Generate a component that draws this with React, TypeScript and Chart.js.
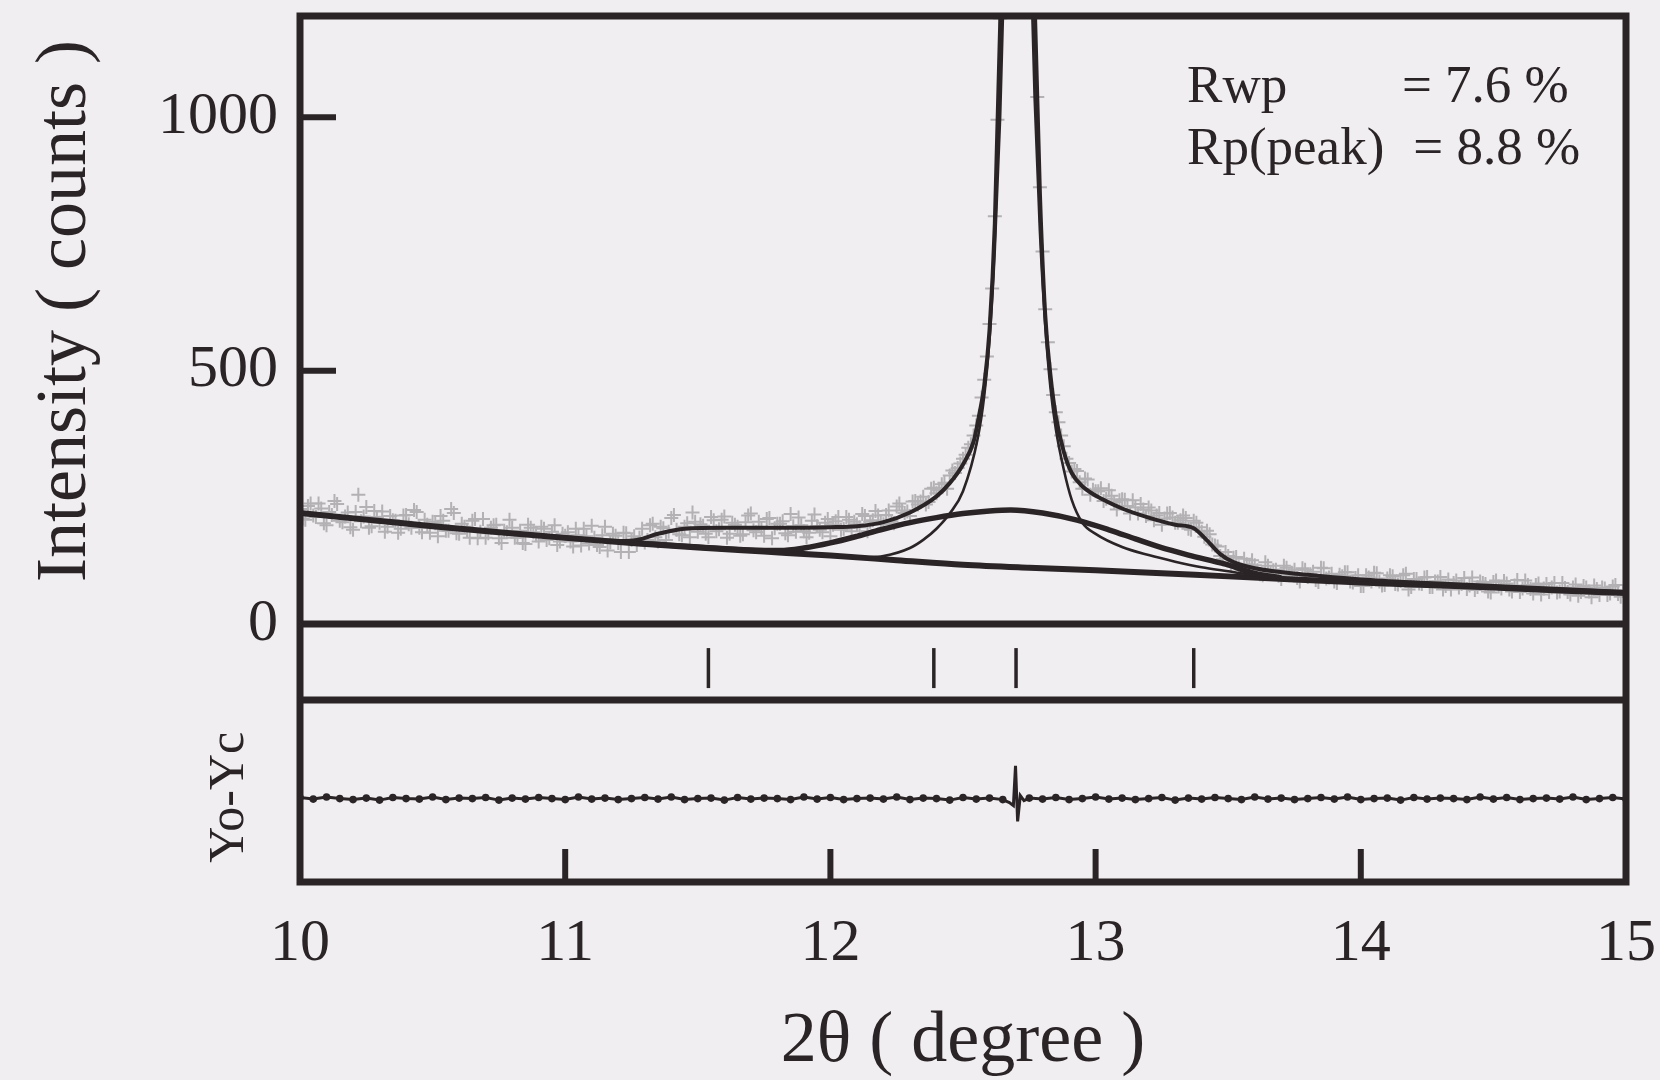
import { useEffect, useRef } from 'react';
import { Chart, registerables } from 'chart.js';

Chart.register(...registerables);

const INK = '#2a2427';
const DATA_GREY = '#b3b1b3';
const PAPER = '#f0eef0';
const SERIF = "'Liberation Serif', 'DejaVu Serif', 'Times New Roman', serif";

const X_TICKS = [10, 11, 12, 13, 14, 15];
const Y_TICKS = [0, 500, 1000];

// observed intensity, first interleave (10.00 .. 15.00, step 0.02 deg)
const OBS_A_START = 10.0;
const OBS_STEP = 0.02;
const OBS_A = [
  227, 206, 238, 211, 228, 195, 215, 237, 201, 220,
  186, 255, 212, 190, 223, 200, 182, 213, 204, 188,
  215, 190, 221, 181, 196, 202, 173, 204, 184, 219,
  178, 192, 170, 207, 182, 170, 190, 196, 160, 181,
  190, 170, 160, 196, 181, 163, 188, 169, 195, 163,
  174,
  163, 188, 155, 173, 194, 156, 175, 145, 178, 160,
  180, 142, 173, 170, 161, 195, 171, 192, 166, 209,
  186, 175, 199, 220, 182, 194, 171, 205, 187, 212,
  178, 196, 174, 201, 218, 181, 188, 207, 169, 198,
  203, 175, 193, 210, 183, 180, 216, 186, 200, 173,
  203, 186, 211, 183, 197, 217, 183, 205, 214, 197,
  224, 199, 238, 219, 213, 243, 242, 236, 267, 258,
  276, 267, 303, 308, 326,
  348, 372, 411, 482, 592, 805, 1195, 1680, 2230, 2480,
  2420, 1930, 1470, 1040, 735, 556, 452, 398, 351, 318,
  306, 280, 287, 255, 262, 268, 247, 253, 226, 246,
  233, 244, 218, 226, 230, 205, 219, 208, 219, 200,
  205, 209, 186, 200, 182, 184, 157, 153, 128, 134,
  131, 112, 129, 111, 116, 98, 122, 101, 107, 89,
  111, 101, 91, 110, 93, 103, 83, 110, 92, 84,
  97, 102, 84, 91, 75, 96, 84, 100, 76, 90,
  94, 78, 96, 68, 89, 80, 92, 73, 84, 93,
  75, 68, 86, 79, 69, 92, 73, 81, 64, 83,
  74, 85, 68, 76, 63, 86, 69, 77, 58, 79,
  72, 62, 81, 63, 72, 56, 75, 64, 76, 57,
  70, 60, 77, 54, 66,
];

// observed intensity, second interleave (10.01 .. 14.99, step 0.02 deg)
const OBS_B_START = 10.01;
const OBS_B = [
  208, 233, 214, 238, 199, 221, 243, 204, 212, 191,
  221, 203, 231, 193, 211, 222, 192, 205, 180, 214,
  197, 225, 190, 206, 180, 199, 213, 184, 227, 179,
  198, 185, 204, 169, 207, 179, 195, 169, 184, 206,
  170, 184, 158, 190, 175, 192, 166, 182, 156, 178,
  181, 153, 175, 188, 159, 170, 152, 192, 161, 174,
  142, 179, 166, 156, 188, 166, 198, 163, 189, 182,
  215, 177, 192, 171, 202, 197, 178, 211, 183, 206,
  170, 200, 192, 177, 214, 185, 202, 174, 209, 189,
  198, 179, 217, 182, 195, 171, 204, 193, 181, 207,
  196, 211, 188, 206, 202, 191, 213, 202, 223, 201,
  215, 203, 232, 224, 222, 242, 236, 251, 241, 269,
  264, 279, 293, 298, 317,
  334, 355, 392, 447, 528, 662, 995, 1420, 1960, 2370,
  2490, 2180, 1710, 1245, 862, 621, 503, 418, 372, 326,
  301, 302, 267, 285, 265, 262, 243, 264, 241, 244,
  245, 218, 230, 237, 213, 224, 214, 196, 218, 210,
  200, 214, 188, 204, 191, 172, 177, 155, 134, 142,
  118, 132, 107, 118, 126, 106, 96, 115, 106, 95,
  115, 96, 107, 84, 107, 98, 87, 111, 90, 99,
  81, 94, 102, 82, 96, 75, 92, 101, 84, 77,
  96, 79, 85, 99, 73, 89, 79, 93, 73, 84,
  68, 88, 81, 72, 91, 76, 67, 84, 79, 62,
  86, 70, 80, 64, 87, 70, 77, 60, 80, 70,
  63, 81, 64, 71, 58, 78, 63, 72, 53, 69,
  72, 57, 74, 59, 65,
];

// calculated total profile
const TOTAL_X = [10.0, 10.25, 10.5, 10.75, 11.0, 11.2, 11.27, 11.35, 11.45, 11.6, 11.8, 12.0, 12.1, 12.2, 12.3, 12.4, 12.45, 12.5, 12.54, 12.56, 12.58, 12.6, 12.62, 12.64, 12.66, 12.68, 12.706, 12.73, 12.75, 12.77, 12.79, 12.81, 12.83, 12.85, 12.88, 12.91, 12.95, 13.03, 13.1, 13.2, 13.3, 13.37, 13.42, 13.47, 13.52, 13.6, 13.8, 14.0, 14.25, 14.5, 14.75, 15.0];
const TOTAL_Y = [219, 205, 193, 181, 171, 164, 166, 178, 188, 190, 190, 191, 193, 201, 220, 252, 278, 315, 360, 410, 470, 580, 790, 1180, 1700, 2200, 2500, 2200, 1700, 1230, 850, 610, 490, 410, 340, 298, 272, 245, 228, 210, 196, 189, 165, 138, 122, 110, 97, 88, 81, 75, 69, 63];

// background
const BG_X = [10.0, 10.25, 10.5, 10.75, 11.0, 11.25, 11.5, 11.75, 12.0, 12.25, 12.5, 12.75, 13.0, 13.25, 13.5, 13.75, 14.0, 14.25, 14.5, 14.75, 15.0];
const BG_Y = [219, 206, 193, 181, 170, 160, 151, 143, 135, 126, 117, 111, 106, 100, 94, 88, 82, 77, 72, 66, 61];

// broad component (+ background)
const HUMP_X = [11.25, 11.5, 11.7, 11.81, 11.9, 12.0, 12.1, 12.19, 12.3, 12.4, 12.5, 12.6, 12.68, 12.8, 12.93, 13.05, 13.15, 13.24, 13.35, 13.49, 13.6, 13.7];
const HUMP_Y = [160, 152, 146, 145, 150, 160, 173, 186, 200, 210, 218, 223, 225, 219, 205, 186, 168, 152, 136, 118, 100, 91];

// sharp component (+ background)
const SHARP_X = [12.12, 12.2, 12.3, 12.35, 12.4, 12.45, 12.5, 12.555, 12.58, 12.6, 12.62, 12.64, 12.66, 12.68, 12.706, 12.73, 12.75, 12.77, 12.79, 12.81, 12.83, 12.85, 12.88, 12.91, 12.95, 13.0, 13.1, 13.2, 13.3, 13.4, 13.5, 13.6, 13.66];
const SHARP_Y = [131, 134, 150, 166, 188, 218, 262, 365, 450, 560, 740, 1000, 1380, 1850, 2200, 1890, 1420, 1040, 775, 590, 465, 385, 305, 245, 200, 178, 152, 136, 123, 112, 104, 96, 92];

// reflection positions
const BRAGG_POS = [11.54, 12.39, 12.70, 13.37];

// Yo - Yc
const RES_START = 10.0;
const RES_STEP = 0.05;
const RES_VALUES = [
  2, -1, 3, 0, -2, 1, -3, 2, 0, -1,
  3, -2, 1, 0, 2, -3, 1, -1, 2, 0,
  -2, 3, -1, 1, -2, 0, 2, -1, 3, -2,
  0, 1, -3, 2, -1, 1, 0, -2, 3, -1,
  2, -2, 0, 1, -1, 3, -2, 1, 0, -3,
  2, -1, 1, -2, 0, 1, -1, 2, -2, 0,
  3, -1, 1, -2, 0, 2, -3, 1, -1, 2,
  0, -2, 3, -1, 1, -2, 0, 2, -1, 3,
  -2, 0, 1, -3, 2, -1, 1, 0, -2, 3,
  -1, 2, -2, 0, 1, -1, 3, -2, 0, 2,
  -1,
];
const RES_GLITCH_X = [12.675, 12.69, 12.698, 12.706, 12.716, 12.73];
const RES_GLITCH_Y = [-8, -14, 65, -45, 6, -4];

const zip = (xs: number[], ys: number[]) => xs.map((x, i) => ({ x, y: ys[i] }));

const framePlugin = {
  id: 'frame',
  beforeDraw(chart: any) {
    const { ctx, width, height } = chart;
    ctx.save();
    ctx.fillStyle = PAPER;
    ctx.fillRect(0, 0, width, height);
    ctx.restore();
  },
  afterDatasetsDraw(chart: any) {
    const { ctx, chartArea: a, scales } = chart;
    ctx.save();
    ctx.strokeStyle = INK;
    ctx.lineCap = 'butt';
    ctx.lineWidth = 7;
    ctx.strokeRect(a.left, a.top, a.right - a.left, a.bottom - a.top);
    const hline = (yy: number) => {
      ctx.beginPath();
      ctx.moveTo(a.left, yy);
      ctx.lineTo(a.right, yy);
      ctx.stroke();
    };
    hline(scales.y.bottom);
    hline(scales.yB.bottom);
    ctx.lineWidth = 6;
    for (const v of Y_TICKS) {
      if (v <= 0) continue;
      const py = scales.y.getPixelForValue(v);
      ctx.beginPath();
      ctx.moveTo(a.left, py);
      ctx.lineTo(a.left + 36, py);
      ctx.stroke();
    }
    for (const v of X_TICKS) {
      if (v <= 10 || v >= 15) continue;
      const px = scales.x.getPixelForValue(v);
      ctx.beginPath();
      ctx.moveTo(px, a.bottom);
      ctx.lineTo(px, a.bottom - 33);
      ctx.stroke();
    }
    // R-factors
    ctx.fillStyle = INK;
    ctx.font = `53px ${SERIF}`;
    ctx.textBaseline = 'alphabetic';
    ctx.textAlign = 'left';
    const X = (v: number) => scales.x.getPixelForValue(v);
    const Y = (v: number) => scales.y.getPixelForValue(v);
    ctx.fillText('Rwp', X(13.345), Y(1030));
    ctx.fillText('= 7.6 %', X(14.155), Y(1030));
    ctx.fillText('Rp(peak)', X(13.345), Y(907));
    ctx.fillText('= 8.8 %', X(14.198), Y(907));
    ctx.restore();
  },
};

export default function App() {
  const ref = useRef<HTMLCanvasElement | null>(null);

  useEffect(() => {
    document.body.style.margin = '0';
    document.body.style.background = PAPER;
    const canvas = ref.current;
    if (!canvas) return;

    const obsA = OBS_A.map((c, i) => ({ x: +(OBS_A_START + i * OBS_STEP).toFixed(2), y: c }));
    const obsB = OBS_B.map((c, i) => ({ x: +(OBS_B_START + i * OBS_STEP).toFixed(2), y: c }));
    const obs = obsA.concat(obsB).sort((p, q) => p.x - q.x);

    const resRegular = RES_VALUES.map((v, i) => ({ x: +(RES_START + i * RES_STEP).toFixed(2), y: v, g: false }));
    const glitch = RES_GLITCH_X.map((x, i) => ({ x, y: RES_GLITCH_Y[i], g: true }));
    const gMin = RES_GLITCH_X[0] - 0.02;
    const gMax = RES_GLITCH_X[RES_GLITCH_X.length - 1] + 0.015;
    const res = resRegular
      .filter((p) => p.x < gMin || p.x > gMax)
      .concat(glitch)
      .sort((p, q) => p.x - q.x);

    const lineDs = (label: string, data: any[], width: number, order: number) => ({
      label,
      data,
      yAxisID: 'y',
      showLine: true,
      borderColor: INK,
      borderWidth: width,
      pointRadius: 0,
      cubicInterpolationMode: 'monotone' as const,
      order,
    });

    Chart.defaults.font.family = SERIF;
    Chart.defaults.color = INK;

    const yFit = (s: any) => {
      s.width = 300;
      s.paddingTop = 0;
      s.paddingBottom = 0;
    };

    const chart = new Chart(canvas, {
      type: 'scatter',
      data: {
        datasets: [
          lineDs('Sharp', zip(SHARP_X, SHARP_Y), 2.6, 1),
          lineDs('Total', zip(TOTAL_X, TOTAL_Y), 4, 2),
          lineDs('Broad', zip(HUMP_X, HUMP_Y), 5.5, 3),
          lineDs('Background', zip(BG_X, BG_Y), 6, 4),
          {
            label: 'Observed',
            data: obs,
            yAxisID: 'y',
            showLine: false,
            pointStyle: 'cross',
            pointRadius: 7,
            borderWidth: 2,
            borderColor: DATA_GREY,
            backgroundColor: DATA_GREY,
            order: 10,
          },
          {
            label: 'Reflections',
            data: BRAGG_POS.map((x) => ({ x, y: 0.42 })),
            yAxisID: 'yB',
            showLine: false,
            pointStyle: 'line',
            rotation: 90,
            pointRadius: 20,
            borderWidth: 3.5,
            borderColor: INK,
            order: 0,
          },
          {
            label: 'Yo-Yc',
            data: res,
            yAxisID: 'yR',
            showLine: true,
            borderColor: INK,
            backgroundColor: INK,
            borderWidth: 3,
            pointRadius: (c: any) => (c.raw && c.raw.g ? 0 : 3.8),
            pointStyle: 'circle',
            pointBorderWidth: 0,
            tension: 0,
            order: 0,
          },
        ],
      },
      options: {
        responsive: false,
        animation: false,
        devicePixelRatio: 1,
        events: [],
        layout: { autoPadding: false, padding: { left: 0, right: 34, top: 16, bottom: 0 } },
        plugins: { legend: { display: false }, tooltip: { enabled: false } },
        scales: {
          x: {
            type: 'linear',
            position: 'bottom',
            min: 10,
            max: 15,
            afterBuildTicks: (s: any) => {
              s.ticks = X_TICKS.map((v) => ({ value: v }));
            },
            afterFit: (s: any) => {
              s.height = 198;
              s.paddingLeft = 0;
              s.paddingRight = 0;
            },
            grid: { display: false, drawTicks: false },
            border: { display: false },
            ticks: {
              autoSkip: false,
              maxRotation: 0,
              padding: 26,
              color: INK,
              font: { size: 60, family: SERIF },
              callback: (v: any) => String(v),
            },
            title: {
              display: true,
              text: '2θ ( degree )',
              color: INK,
              font: { size: 72, family: SERIF },
              padding: { top: 0, bottom: -5 },
            },
          },
          y: {
            type: 'linear',
            position: 'left',
            stack: 'panels',
            stackWeight: 608,
            weight: 3,
            min: 0,
            max: 1200,
            afterBuildTicks: (s: any) => {
              s.ticks = Y_TICKS.map((v) => ({ value: v }));
            },
            afterFit: yFit,
            grid: { display: false, drawTicks: false },
            border: { display: false },
            ticks: {
              padding: 22,
              color: INK,
              font: { size: 60, family: SERIF },
              callback: (v: any) => String(v),
            },
            title: {
              display: true,
              text: ' Intensity ( counts )',
              color: INK,
              font: { size: 72, family: SERIF },
              padding: { top: 23, bottom: 0 },
            },
          },
          yB: {
            type: 'linear',
            position: 'left',
            stack: 'panels',
            stackWeight: 76,
            weight: 2,
            min: 0,
            max: 1,
            afterFit: yFit,
            grid: { display: false, drawTicks: false },
            border: { display: false },
            ticks: { display: false },
          },
          yR: {
            type: 'linear',
            position: 'left',
            stack: 'panels',
            stackWeight: 182,
            weight: 1,
            min: -165,
            max: 195,
            afterFit: yFit,
            grid: { display: false, drawTicks: false },
            border: { display: false },
            ticks: { display: false },
            title: {
              display: true,
              text: 'Yo-Yc ',
              color: INK,
              font: { size: 50, family: SERIF },
              padding: { top: 200, bottom: 0 },
            },
          },
        },
      },
      plugins: [framePlugin],
    } as any);

    return () => chart.destroy();
  }, []);

  return (
    <div style={{ position: 'fixed', left: 0, top: 0, width: 1660, height: 1080, background: PAPER }}>
      <canvas ref={ref} width={1660} height={1080} style={{ width: 1660, height: 1080, display: 'block' }} />
    </div>
  );
}
